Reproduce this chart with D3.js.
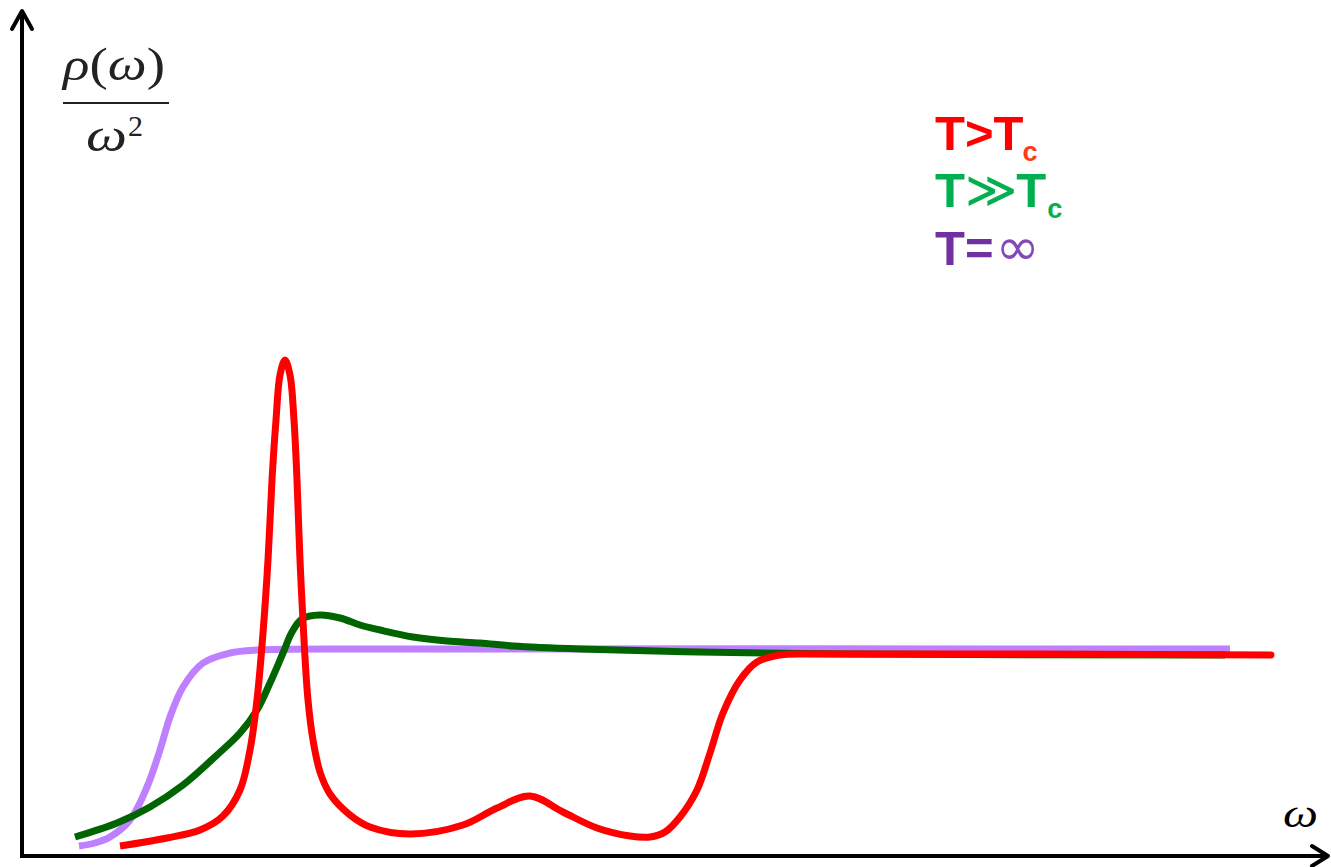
<!DOCTYPE html>
<html>
<head>
<meta charset="utf-8">
<script src="https://cdn.jsdelivr.net/npm/d3@7"></script>
<style>
  html, body { margin: 0; padding: 0; background: #fff; }
  svg { display: block; }
</style>
</head>
<body>
<div id="chart"></div>
<script>
// --- data (omega, rho/omega^2), arbitrary units ---
const infSeries = [
  [0.57, 0.10], [0.73, 0.13], [0.88, 0.19], [1.08, 0.36], [1.25, 0.69],
  [1.38, 1.06], [1.48, 1.39], [1.61, 1.69], [1.81, 1.93], [2.08, 2.03],
  [2.35, 2.06], [3.78, 2.07], [12.08, 2.07]
];
const farSeries = [
  [0.53, 0.19], [0.95, 0.33], [1.28, 0.49], [1.61, 0.71], [1.95, 1.01],
  [2.18, 1.23], [2.35, 1.46], [2.48, 1.73], [2.61, 2.03], [2.70, 2.24],
  [2.80, 2.37], [2.98, 2.41], [3.18, 2.38], [3.38, 2.31], [3.58, 2.26],
  [3.91, 2.19], [4.25, 2.15], [4.58, 2.13], [4.91, 2.10], [5.58, 2.07],
  [6.78, 2.04], [8.28, 2.02], [12.03, 2.01]
];
const nearSeries = [
  [0.98, 0.10], [1.45, 0.18], [1.78, 0.26], [2.01, 0.40], [2.18, 0.66],
  [2.28, 1.06], [2.35, 1.56], [2.41, 2.23], [2.46, 2.96], [2.50, 3.76],
  [2.54, 4.36], [2.58, 4.81], [2.63, 4.96], [2.68, 4.81], [2.72, 4.36],
  [2.75, 3.76], [2.78, 2.96], [2.82, 2.16], [2.86, 1.56], [2.91, 1.16],
  [2.98, 0.84], [3.08, 0.62], [3.28, 0.41], [3.48, 0.29], [3.88, 0.22],
  [4.41, 0.31], [4.75, 0.48], [5.08, 0.60], [5.41, 0.44], [5.75, 0.28],
  [6.08, 0.20], [6.28, 0.19], [6.43, 0.24], [6.58, 0.39], [6.75, 0.66],
  [6.88, 1.03], [7.01, 1.43], [7.18, 1.76], [7.35, 1.94], [7.58, 2.01],
  [7.98, 2.02], [12.49, 2.01]
];

const seriesNames = ["T=\u221e", "T\u226bTc", "T>Tc"];
const seriesColors = ["#bf80ff", "#006400", "#ff0000"];

const width = 1331, height = 867;

const svg = d3.select("#chart").append("svg")
  .attr("width", width)
  .attr("height", height);

const x = d3.scaleLinear().domain([0, 13.03]).range([22, 1325]);
const y = d3.scaleLinear().domain([0, 8.44]).range([856, 12]);

// --- curves (back to front: T=inf, T>>Tc, T>Tc) ---
const line = d3.line()
  .x(d => x(d[0]))
  .y(d => y(d[1]))
  .curve(d3.curveCatmullRom.alpha(0.5));

[infSeries, farSeries, nearSeries].forEach((s, i) => {
  svg.append("path")
    .datum(s)
    .attr("fill", "none")
    .attr("stroke", seriesColors[i])
    .attr("stroke-width", 7)
    .attr("stroke-linejoin", "round")
    .attr("d", line);
});

// --- axes with arrow heads ---
const x0 = x.range()[0], x1 = x.range()[1];
const y0 = y.range()[0], y1 = y.range()[1];
const axisG = svg.append("g")
  .attr("fill", "none")
  .attr("stroke", "#000")
  .attr("stroke-width", 4);

axisG.append("line").attr("x1", x0).attr("y1", y0 + 2).attr("x2", x0).attr("y2", y1 - 1);
axisG.append("polyline")
  .attr("stroke-linejoin", "round")
  .attr("stroke-linecap", "round")
  .attr("points", [[x0 - 10, y1 + 17], [x0, y1 - 1], [x0 + 10, y1 + 17]].join(" "));

axisG.append("line").attr("x1", x0 - 2).attr("y1", y0).attr("x2", x1 + 2).attr("y2", y0);
axisG.append("polyline")
  .attr("stroke-linejoin", "round")
  .attr("stroke-linecap", "round")
  .attr("points", [[x1 - 13, y0 - 10], [x1 + 3, y0], [x1 - 13, y0 + 10]].join(" "));

// --- y label: rho(omega) / omega^2 ---
const mathFont = "'Liberation Serif', 'DejaVu Serif', serif";
const ylab = svg.append("g").attr("font-family", mathFont).attr("fill", "#222");
const num = ylab.append("text")
  .attr("x", 63).attr("y", 80)
  .attr("font-size", 46)
  .attr("textLength", 102)
  .attr("lengthAdjust", "spacingAndGlyphs");
num.append("tspan").attr("font-style", "italic").text("\u03c1");
num.append("tspan").text("(");
num.append("tspan").attr("font-style", "italic").text("\u03c9");
num.append("tspan").text(")");

ylab.append("line")
  .attr("x1", 63).attr("x2", 169)
  .attr("y1", 103).attr("y2", 103)
  .attr("stroke", "#222").attr("stroke-width", 2);

ylab.append("text")
  .attr("x", 86).attr("y", 151)
  .attr("font-size", 46)
  .attr("font-style", "italic")
  .attr("textLength", 41)
  .attr("lengthAdjust", "spacingAndGlyphs")
  .text("\u03c9");
ylab.append("text")
  .attr("x", 128).attr("y", 136)
  .attr("font-size", 30)
  .text("2");

// --- x label ---
svg.append("text")
  .attr("x", 1283).attr("y", 827)
  .attr("font-family", mathFont)
  .attr("font-style", "italic")
  .attr("font-size", 40)
  .attr("textLength", 35)
  .attr("lengthAdjust", "spacingAndGlyphs")
  .text("\u03c9");

// --- legend ---
const legend = svg.append("g")
  .attr("font-family", "'Liberation Sans', Arial, sans-serif")
  .attr("font-weight", "bold")
  .attr("font-size", 49);

const l1 = legend.append("text").attr("x", 935).attr("y", 150).attr("fill", "#ff0000");
l1.append("tspan").text("T>T");
l1.append("tspan").attr("font-size", 27).attr("dx", -1).attr("dy", 11).attr("fill", "#ff3a1a").text("c");

const l2 = legend.append("text").attr("x", 935).attr("y", 207).attr("fill", "#00b050");
l2.append("tspan").text("T");
l2.append("tspan").attr("font-weight", "normal").attr("font-family", "'DejaVu Sans', sans-serif")
  .attr("font-size", 50).text("\u226b");
l2.append("tspan").attr("dx", -1).text("T");
l2.append("tspan").attr("font-size", 27).attr("dx", 1).attr("dy", 11).text("c");

const l3 = legend.append("text").attr("x", 935).attr("y", 265).attr("fill", "#7030a0");
l3.append("tspan").text("T=");
l3.append("tspan").attr("font-weight", "normal").attr("font-family", "'DejaVu Sans', sans-serif")
  .attr("font-size", 53).attr("dx", 2).attr("fill", "#8548bb").text("\u221e");
</script>
</body>
</html>
